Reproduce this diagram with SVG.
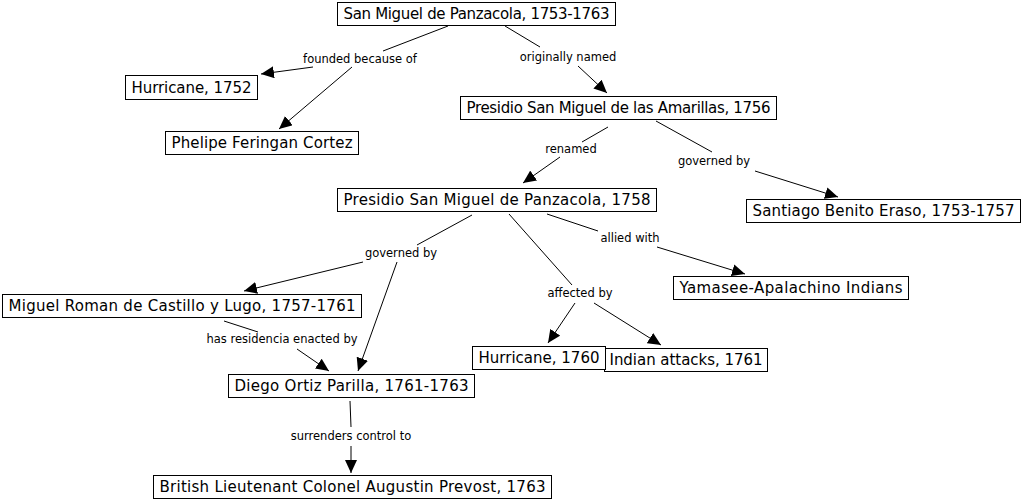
<svg xmlns="http://www.w3.org/2000/svg" width="1024" height="501" viewBox="0 0 1024 501">
<style>
.box{fill:#fff;stroke:#000;stroke-width:1}
.nt{font-family:"DejaVu Sans","Liberation Sans",sans-serif;font-size:15px;fill:#000;text-anchor:middle}
.lt{font-family:"DejaVu Sans","Liberation Sans",sans-serif;font-size:11.5px;fill:#000;text-anchor:middle}
.e{stroke:#000;stroke-width:1;fill:none}
.a{marker-end:url(#arr)}
</style>
<defs>
<marker id="arr" markerUnits="userSpaceOnUse" markerWidth="14" markerHeight="12" refX="13" refY="6" orient="auto">
<path d="M0,0 L13,6 L0,12 Z" fill="#000"/>
</marker>
</defs>
<rect width="1024" height="501" fill="#fff"/>
<g id="connectors">
<line class="e" x1="448" y1="26" x2="383" y2="51"/>
<line class="e a" x1="313" y1="67" x2="261" y2="74"/>
<line class="e a" x1="352" y1="67" x2="279" y2="129"/>
<text class="lt" x="360" y="63">founded because of</text>
<line class="e" x1="505" y1="26" x2="540" y2="47"/>
<line class="e a" x1="578" y1="66" x2="607" y2="93"/>
<text class="lt" x="568" y="61">originally named</text>
<line class="e" x1="608" y1="127" x2="582" y2="142"/>
<line class="e a" x1="560" y1="157" x2="523" y2="183"/>
<text class="lt" x="571" y="153">renamed</text>
<line class="e" x1="656" y1="121" x2="712" y2="152"/>
<line class="e a" x1="755" y1="171" x2="838" y2="197"/>
<text class="lt" x="714" y="165">governed by</text>
<line class="e" x1="472" y1="215" x2="417" y2="245"/>
<line class="e a" x1="363" y1="262" x2="244" y2="291"/>
<line class="e a" x1="397" y1="262" x2="358" y2="371"/>
<text class="lt" x="401" y="257">governed by</text>
<line class="e" x1="224" y1="321" x2="258" y2="332"/>
<line class="e a" x1="297" y1="349" x2="329" y2="371"/>
<text class="lt" x="282" y="343">has residencia enacted by</text>
<line class="e" x1="350" y1="401" x2="351" y2="427"/>
<line class="e a" x1="351" y1="446" x2="351" y2="473"/>
<text class="lt" x="351" y="440">surrenders control to</text>
<line class="e" x1="547" y1="214" x2="598" y2="231"/>
<line class="e a" x1="657" y1="247" x2="745" y2="274"/>
<text class="lt" x="630" y="242">allied with</text>
<line class="e" x1="509" y1="214" x2="572" y2="285"/>
<line class="e a" x1="575" y1="303" x2="548" y2="343"/>
<line class="e a" x1="594" y1="303" x2="661" y2="345"/>
<text class="lt" x="580" y="297">affected by</text>
</g>
<g id="n1"><rect class="box" x="337.5" y="2.5" width="278" height="23"/><text class="nt" x="476.5" y="19" textLength="266">San Miguel de Panzacola, 1753-1763</text></g>
<g id="n2"><rect class="box" x="125.5" y="75.5" width="132" height="24"/><text class="nt" x="191.5" y="93" textLength="120">Hurricane, 1752</text></g>
<g id="n3"><rect class="box" x="165.5" y="131.5" width="193" height="23"/><text class="nt" x="262" y="148" textLength="181">Phelipe Feringan Cortez</text></g>
<g id="n4"><rect class="box" x="460.5" y="96.5" width="316" height="23"/><text class="nt" x="618.5" y="113" textLength="304">Presidio San Miguel de las Amarillas, 1756</text></g>
<g id="n5"><rect class="box" x="337.5" y="188.5" width="319" height="23"/><text class="nt" x="497" y="205" textLength="307">Presidio San Miguel de Panzacola, 1758</text></g>
<g id="n6"><rect class="box" x="746.5" y="199.5" width="274" height="23"/><text class="nt" x="883.5" y="216" textLength="262">Santiago Benito Eraso, 1753-1757</text></g>
<g id="n7"><rect class="box" x="2.5" y="294.5" width="359" height="23"/><text class="nt" x="182" y="311" textLength="347">Miguel Roman de Castillo y Lugo, 1757-1761</text></g>
<g id="n8"><rect class="box" x="673.5" y="276.5" width="235" height="23"/><text class="nt" x="791" y="293" textLength="223">Yamasee-Apalachino Indians</text></g>
<g id="n10"><rect class="box" x="604.5" y="348.5" width="163" height="23"/><text class="nt" x="686" y="365" textLength="153">Indian attacks, 1761</text></g>
<g id="n9"><rect class="box" x="472.5" y="346.5" width="133" height="23"/><text class="nt" x="539" y="363" textLength="121">Hurricane, 1760</text></g>
<g id="n11"><rect class="box" x="228.5" y="374.5" width="246" height="23"/><text class="nt" x="351.5" y="391" textLength="234">Diego Ortiz Parilla, 1761-1763</text></g>
<g id="n12"><rect class="box" x="153.5" y="475.5" width="398" height="23"/><text class="nt" x="352.5" y="492" textLength="386">British Lieutenant Colonel Augustin Prevost, 1763</text></g>
</svg>
